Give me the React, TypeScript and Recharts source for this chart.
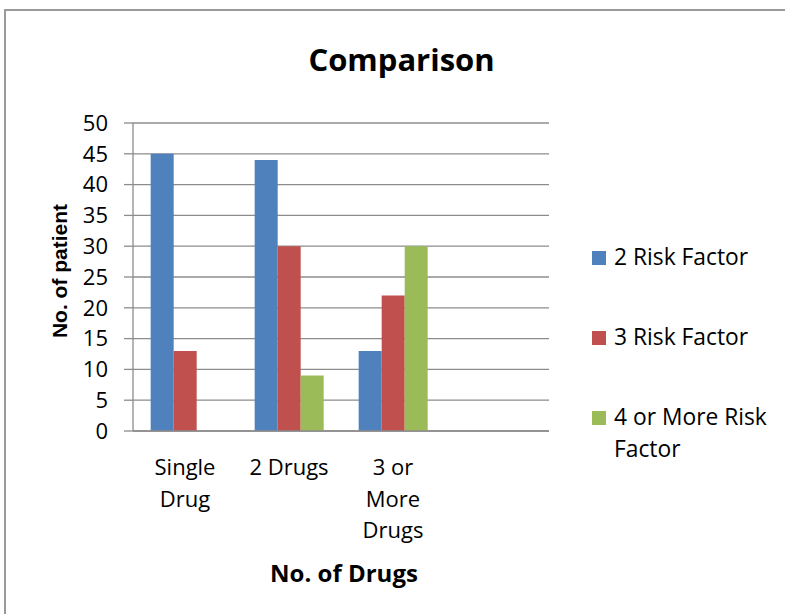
import React from 'react';
import { BarChart, Bar, XAxis, YAxis, CartesianGrid } from 'recharts';

// drug-count groups; the last slot is left empty on purpose
const categories = ['Single Drug', '2 Drugs', '3 or More Drugs', ''];
const categoryLines: string[][] = [['Single', 'Drug'], ['2 Drugs'], ['3 or', 'More', 'Drugs'], []];

const twoRisk = [45, 44, 13, null];
const threeRisk = [13, 30, 22, null];
const fourPlusRisk = [0, 9, 30, null];

const yTicks = [0, 5, 10, 15, 20, 25, 30, 35, 40, 45, 50];

const series = [
  { key: 'two', name: '2 Risk Factor', color: '#4F81BD', lines: ['2 Risk Factor'] },
  { key: 'three', name: '3 Risk Factor', color: '#C0504D', lines: ['3 Risk Factor'] },
  { key: 'four', name: '4 or More Risk Factor', color: '#9BBB59', lines: ['4 or More Risk', 'Factor'] },
];

const data = categories.map((name, i) => ({
  name,
  two: twoRisk[i],
  three: threeRisk[i],
  four: fourPlusRisk[i],
}));

const FONT = '"Open Sans", sans-serif';
const GRID = '#8c8c8c';

function CategoryTick(props: any) {
  const { x, y, payload } = props;
  const idx = categories.indexOf(payload.value);
  const lines = idx >= 0 ? categoryLines[idx] : [];
  return (
    <g>
      {lines.map((ln, i) => (
        <text key={i} x={x} y={y + 36 + i * 31.5} textAnchor="middle" fill="#000" fontFamily={FONT} fontSize={22}>
          {ln}
        </text>
      ))}
    </g>
  );
}

// legend sits to the right of the plot, one swatch per series
function SideLegend() {
  return (
    <div style={{ position: 'absolute', left: 592, top: 241, width: 193, height: 240, fontFamily: FONT, fontSize: 22.8, lineHeight: '32px', color: '#000' }}>
      {series.map((s, i) => (
        <div key={s.key} style={{ position: 'absolute', left: 0, top: i * 80, width: 193 }}>
          <div style={{ position: 'absolute', left: 0, top: 10, width: 14, height: 14, background: s.color }} />
          <div style={{ marginLeft: 22, whiteSpace: 'nowrap' }}>
            {s.lines.map((l, j) => (
              <div key={j}>{l}</div>
            ))}
          </div>
        </div>
      ))}
    </div>
  );
}

export default function App() {
  return (
    <div style={{ position: 'absolute', left: 0, top: 0, width: 785, height: 614, overflow: 'hidden', background: '#fff' }}>
      <div style={{ position: 'absolute', left: 4, top: 9, width: 900, height: 900, borderTop: '2px solid #9a9a9a', borderLeft: '2px solid #9a9a9a' }} />
      <BarChart
        width={785}
        height={614}
        data={data}
        margin={{ top: 123, right: 236, bottom: 123, left: 0 }}
        barCategoryGap="17%"
        barGap={0}
      >
        <CartesianGrid vertical={false} stroke={GRID} strokeWidth={1.3} />
        <XAxis
          dataKey="name"
          interval={0}
          height={60}
          tickLine={false}
          axisLine={{ stroke: GRID, strokeWidth: 1.3 }}
          tick={<CategoryTick />}
        />
        <YAxis
          width={133}
          domain={[0, 50]}
          ticks={yTicks}
          interval={0}
          tickSize={9}
          tickMargin={16}
          tickLine={{ stroke: GRID, strokeWidth: 1.3 }}
          axisLine={{ stroke: GRID, strokeWidth: 1.3 }}
          tick={{ fill: '#000', fontFamily: FONT, fontSize: 22 }}
        />
        {series.map((s) => (
          <Bar key={s.key} dataKey={s.key} name={s.name} fill={s.color} isAnimationActive={false} />
        ))}
      </BarChart>
      <SideLegend />
      <div style={{ position: 'absolute', left: 0, width: 785, top: 37, textAlign: 'center', paddingLeft: 18, boxSizing: 'border-box', fontFamily: FONT, fontWeight: 700, fontSize: 31, lineHeight: '44px', color: '#000' }}>
        Comparison
      </div>
      <div style={{ position: 'absolute', left: 244, width: 200, top: 556, textAlign: 'center', fontFamily: FONT, fontWeight: 700, fontSize: 24, lineHeight: '34px', color: '#000' }}>
        No. of Drugs
      </div>
      <div style={{ position: 'absolute', left: 60, top: 271, width: 0, height: 0 }}>
        <div style={{ position: 'absolute', left: -100, top: -15, width: 200, textAlign: 'center', transform: 'rotate(-90deg)', fontFamily: '"Liberation Sans", Arial, sans-serif', fontWeight: 700, fontSize: 21, lineHeight: '30px', color: '#000' }}>
          No. of patient
        </div>
      </div>
    </div>
  );
}
